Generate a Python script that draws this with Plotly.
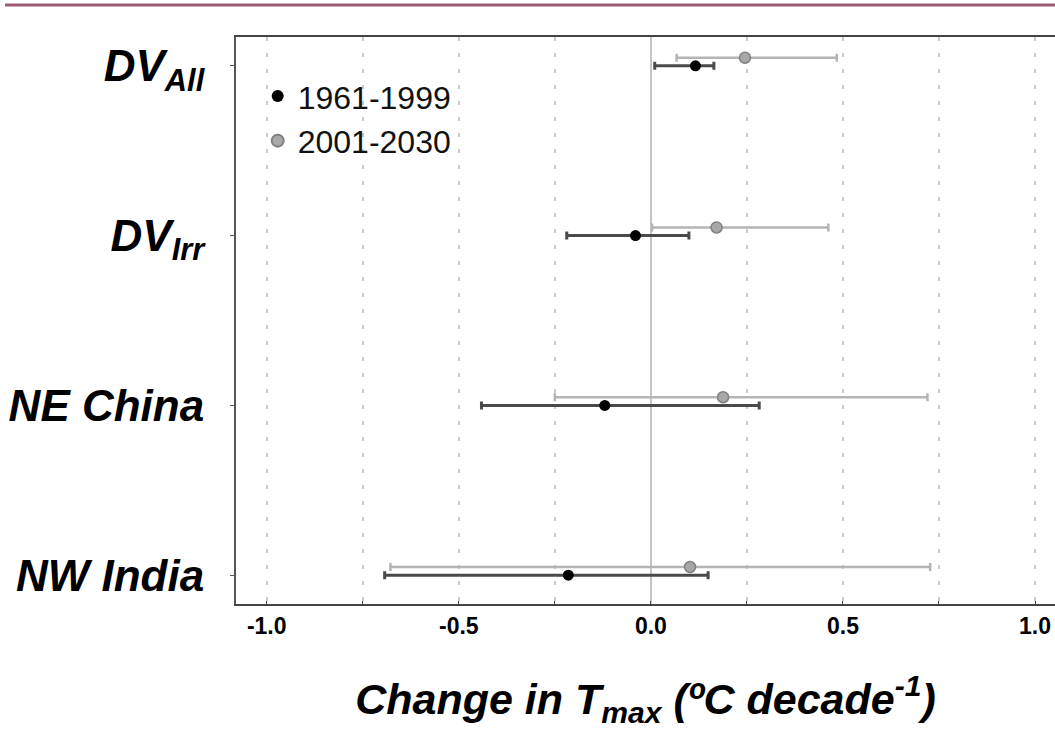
import plotly.graph_objects as go

categories = ["NW India", "NE China", "DV<sub>Irr</sub>", "DV<sub>All</sub>"]

# 1961-1999 (black)
hist_center = [-0.215, -0.120, -0.040, 0.116]
hist_low = [-0.693, -0.441, -0.219, 0.010]
hist_high = [0.149, 0.282, 0.099, 0.164]

# 2001-2030 (grey)
fut_center = [0.102, 0.188, 0.171, 0.245]
fut_low = [-0.678, -0.250, 0.003, 0.067]
fut_high = [0.727, 0.720, 0.462, 0.484]

x_tickvals = [-1.0, -0.75, -0.5, -0.25, 0.0, 0.25, 0.5, 0.75, 1.0]
x_ticktext = ["-1.0", "", "-0.5", "", "0.0", "", "0.5", "", "1.0"]

ypos = list(range(len(categories)))
offset = 0.048

fig = go.Figure()

fig.add_trace(go.Scatter(
    x=fut_center, y=[p + offset for p in ypos], mode="markers", name="2001-2030",
    marker=dict(symbol="circle", size=11, color="#a8a8a8", line=dict(color="#808080", width=1.5)),
    error_x=dict(type="data", symmetric=False,
                 array=[h - c for h, c in zip(fut_high, fut_center)],
                 arrayminus=[c - l for c, l in zip(fut_center, fut_low)],
                 color="#b4b4b4", thickness=2.5, width=4),
))
fig.add_trace(go.Scatter(
    x=hist_center, y=ypos, mode="markers", name="1961-1999",
    marker=dict(symbol="circle", size=11, color="#000000"),
    error_x=dict(type="data", symmetric=False,
                 array=[h - c for h, c in zip(hist_high, hist_center)],
                 arrayminus=[c - l for c, l in zip(hist_center, hist_low)],
                 color="#4a4a4a", thickness=3, width=4),
))

fig.update_layout(
    width=1055, height=729,
    margin=dict(l=236, r=0, t=37, b=125, autoexpand=False),
    paper_bgcolor="white", plot_bgcolor="white",
    font=dict(family="Liberation Sans, Arial, sans-serif", color="#000000"),
    showlegend=True,
    legend=dict(x=0.0265, y=0.944, xanchor="left", yanchor="top",
                bgcolor="rgba(0,0,0,0)", font=dict(size=32, color="#111111"),
                traceorder="reversed", itemsizing="constant", tracegroupgap=0),
    xaxis=dict(
        range=[-1.08, 1.052], tickvals=x_tickvals,
        ticktext=["<b>" + t + "</b>" if t else "" for t in x_ticktext],
        automargin=False,
        showgrid=True, gridcolor="#c8c8c8", gridwidth=2, griddash="4px,12px",
        zeroline=True, zerolinecolor="#c4c4c4", zerolinewidth=2,
        showline=True, linecolor="#444444", linewidth=2, mirror=True,
        ticks="inside", ticklen=3, tickcolor="#444444",
        tickfont=dict(size=23, family="Liberation Sans, Arial, sans-serif"),
        title=dict(text="<b><i>Change in T<sub>max</sub> (ºC decade<sup>-1</sup>)</i></b>",
                   font=dict(size=43), standoff=46),
    ),
    yaxis=dict(
        range=[-0.17, 3.17], tickvals=ypos,
        ticktext=["<b><i>" + c + "</i></b>" for c in categories],
        automargin=False,
        showgrid=False, zeroline=False,
        showline=True, linecolor="#555555", linewidth=2,
        ticks="outside", ticklen=4, tickcolor="#555555",
        tickfont=dict(size=44, family="Liberation Sans, Arial, sans-serif"),
        ticklabelstandoff=17,
    ),
    shapes=[dict(type="line", xref="paper", yref="paper", x0=-0.282, x1=1.0,
                 y0=1 + 32 / 567, y1=1 + 32 / 567,
                 line=dict(color="#9c5a76", width=3))],
)

fig.write_html(
    "out.html",
    config={"displayModeBar": False},
    post_script="document.body.style.margin='0';document.body.style.padding='0';",
)
